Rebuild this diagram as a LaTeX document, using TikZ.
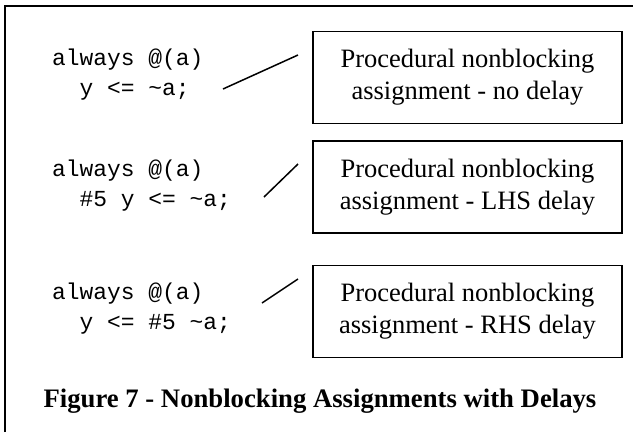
\documentclass[tikz,border=0pt]{standalone}
\usepackage{fontspec}
\setmainfont{Liberation Serif}
\setmonofont{Liberation Mono}
\begin{document}
\begin{tikzpicture}[x=1pt,y=-1pt,
  code/.style={anchor=base west,inner sep=0pt,align=left,
    font=\ttfamily\fontsize{22.9}{30}\selectfont},
  notebox/.style={draw,line width=1.6pt,minimum width=309pt,minimum height=92pt,
    inner sep=0pt,align=center,font=\fontsize{26.5}{32}\selectfont},
  leader/.style={line width=1.5pt},
  frame/.style={line width=1.8pt}]
  \useasboundingbox (0,0) rectangle (633,432);
  % outer frame (top and left edges)
  \draw[frame] (5,432) -- (5,6) -- (633,6);

  % code fragments (base anchor sits on the last line)
  \node[code] (c1) at (52,95) {always @(a)\\\phantom{xx}y <= \textasciitilde a;};
  \node[code] (c2) at (52,206) {always @(a)\\\phantom{xx}\#5 y <= \textasciitilde a;};
  \node[code] (c3) at (52,329) {always @(a)\\\phantom{xx}y <= \#5 \textasciitilde a;};

  % description boxes
  \node[notebox] (b1) at (467.5,77.5) {Procedural nonblocking\\assignment - no delay};
  \node[notebox] (b2) at (467.5,187) {Procedural nonblocking\\assignment - LHS delay};
  \node[notebox] (b3) at (467.5,311.5) {Procedural nonblocking\\assignment - RHS delay};

  % leader lines
  \coordinate (s1) at (223,89);  \coordinate (e1) at (298,55);
  \coordinate (s2) at (264,197); \coordinate (e2) at (298,164);
  \coordinate (s3) at (262,303); \coordinate (e3) at (298,279);
  \draw[leader] (s1) -- (e1);
  \draw[leader] (s2) -- (e2);
  \draw[leader] (s3) -- (e3);

  % caption
  \node[anchor=base,inner sep=0pt,font=\bfseries\fontsize{26.7}{32}\selectfont] (cap) at (320,407)
    {Figure 7 - Nonblocking Assignments with Delays};
\end{tikzpicture}
\end{document}
